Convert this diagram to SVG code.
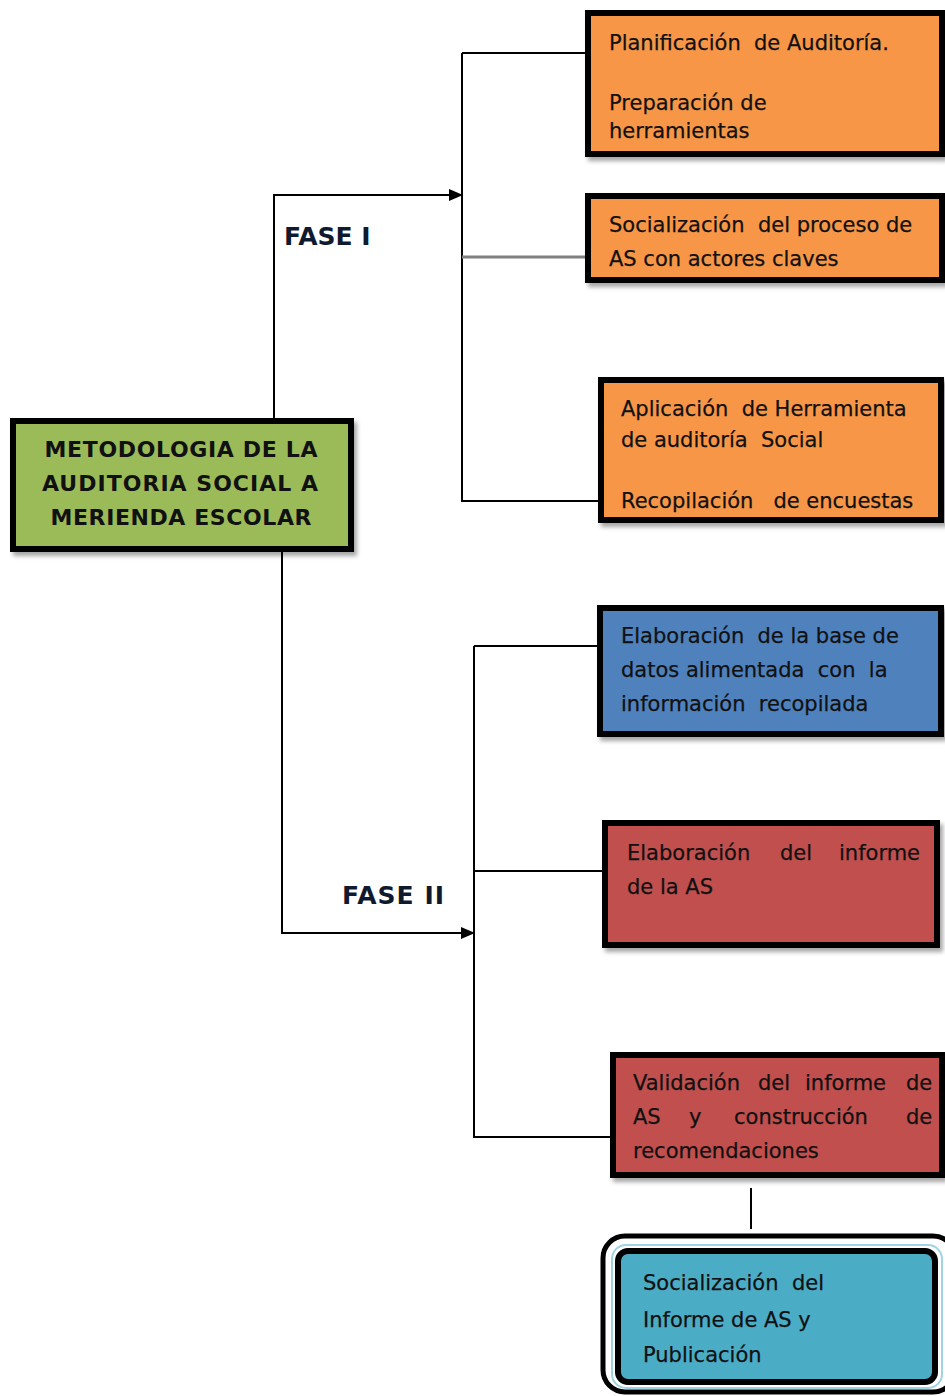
<svg xmlns="http://www.w3.org/2000/svg" width="945" height="1396" viewBox="0 0 945 1396">
<defs>
<style>
.box{stroke:#000;stroke-width:6;filter:url(#sh)}
.t{font-family:"DejaVu Sans","Verdana",sans-serif;font-size:21px;fill:#111;stroke:#111;stroke-width:0.25}
.b{font-family:"DejaVu Sans","Verdana",sans-serif;font-size:22px;font-weight:bold;fill:#111}
.lb{font-family:"DejaVu Sans","Verdana",sans-serif;font-size:25px;font-weight:bold;fill:#0f1a2e}
.ln{stroke:#000;stroke-width:2;fill:none}
</style>
<filter id="sh" x="-10%" y="-10%" width="130%" height="130%">
<feDropShadow dx="3" dy="4" stdDeviation="2" flood-color="#000" flood-opacity="0.35"/>
</filter>
<marker id="ar" markerWidth="14" markerHeight="12" refX="13" refY="6" orient="auto" markerUnits="userSpaceOnUse">
<path d="M0,0 L14,6 L0,12 Z" fill="#000"/>
</marker>
</defs>
<rect width="945" height="1396" fill="#fff"/>

<g id="connectors">
<polyline class="ln" points="274,418 274,195 462,195" marker-end="url(#ar)"/>
<line class="ln" x1="462" y1="53" x2="462" y2="502"/>
<line class="ln" x1="462" y1="53" x2="588" y2="53"/>
<line x1="462" y1="257" x2="588" y2="257" stroke="#808080" stroke-width="3"/>
<line class="ln" x1="462" y1="501" x2="600" y2="501"/>
<polyline class="ln" points="282,552 282,933 474,933" marker-end="url(#ar)"/>
<line class="ln" x1="474" y1="646" x2="474" y2="1138"/>
<line class="ln" x1="474" y1="646" x2="600" y2="646"/>
<line class="ln" x1="474" y1="871" x2="605" y2="871"/>
<line class="ln" x1="474" y1="1137" x2="613" y2="1137"/>
<line class="ln" x1="751" y1="1188" x2="751" y2="1229"/>
</g>

<g id="labels">
<text class="lb" x="284" y="245">FASE I</text>
<text class="lb" x="342" y="904" textLength="102" lengthAdjust="spacing">FASE II</text>
</g>

<g id="root">
<rect class="box" x="13" y="421" width="338" height="128" fill="#9BBB59"/>
<text class="b" text-anchor="middle" x="181" y="457" textLength="273" lengthAdjust="spacing">METODOLOGIA DE LA</text>
<text class="b" text-anchor="middle" x="180" y="491" textLength="276" lengthAdjust="spacing">AUDITORIA SOCIAL A</text>
<text class="b" text-anchor="middle" x="181" y="525" textLength="261" lengthAdjust="spacing">MERIENDA ESCOLAR</text>
</g>

<g id="n1">
<rect class="box" x="588" y="13" width="354" height="141" fill="#F79646"/>
<text class="t" x="609" y="50" xml:space="preserve">Planificación  de Auditoría.</text>
<text class="t" x="609" y="110">Preparación de</text>
<text class="t" x="609" y="138">herramientas</text>
</g>

<g id="n2">
<rect class="box" x="588" y="196" width="354" height="84" fill="#F79646"/>
<text class="t" x="609" y="232" xml:space="preserve">Socialización  del proceso de</text>
<text class="t" x="609" y="266">AS con actores claves</text>
</g>

<g id="n3">
<rect class="box" x="601" y="380" width="340" height="140" fill="#F79646"/>
<text class="t" x="621" y="416" xml:space="preserve">Aplicación  de Herramienta</text>
<text class="t" x="621" y="447" xml:space="preserve">de auditoría  Social</text>
<text class="t" x="621" y="508" xml:space="preserve">Recopilación   de encuestas</text>
</g>

<g id="n4">
<rect class="box" x="600" y="608" width="341" height="126" fill="#4F81BD"/>
<text class="t" x="621" y="643" xml:space="preserve">Elaboración  de la base de</text>
<text class="t" x="621" y="677" xml:space="preserve">datos alimentada  con  la</text>
<text class="t" x="621" y="711" xml:space="preserve">información  recopilada</text>
</g>

<g id="n5">
<rect class="box" x="605" y="823" width="332" height="122" fill="#C0504D"/>
<text class="t" y="860"><tspan x="627">Elaboración</tspan><tspan x="780">del</tspan><tspan x="839">informe</tspan></text>
<text class="t" x="627" y="894">de la AS</text>
</g>

<g id="n6">
<rect class="box" x="613" y="1055" width="329" height="120" fill="#C0504D"/>
<text class="t" y="1090"><tspan x="633">Validación</tspan><tspan x="758">del</tspan><tspan x="805">informe</tspan><tspan x="906">de</tspan></text>
<text class="t" y="1124"><tspan x="633">AS</tspan><tspan x="689">y</tspan><tspan x="734">construcción</tspan><tspan x="906">de</tspan></text>
<text class="t" x="633" y="1158">recomendaciones</text>
</g>

<g id="n7">
<rect x="603" y="1236" width="352" height="156" rx="22" fill="#fff" stroke="#000" stroke-width="5"/>
<rect x="612" y="1245" width="330" height="143" rx="14" fill="none" stroke="#9fd4e4" stroke-width="2"/>
<rect x="618" y="1251" width="317" height="131" rx="10" fill="#4BACC6" stroke="#000" stroke-width="6"/>
<text class="t" x="643" y="1290" xml:space="preserve">Socialización  del</text>
<text class="t" x="643" y="1327">Informe de AS y</text>
<text class="t" x="643" y="1362">Publicación</text>
</g>
</svg>
